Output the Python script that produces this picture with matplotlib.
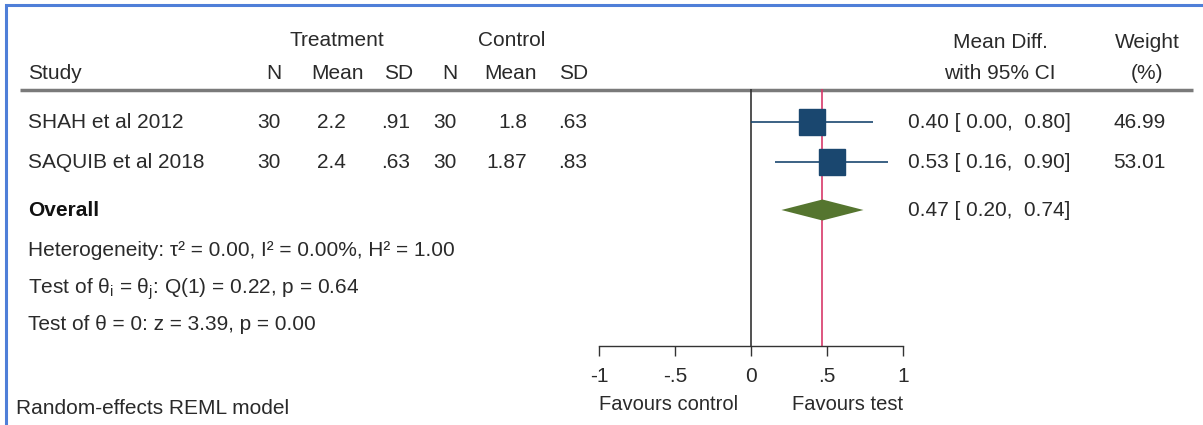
import matplotlib.pyplot as plt
from matplotlib.ticker import FixedLocator, FixedFormatter

plt.rcParams['font.family'] = ['Liberation Sans', 'DejaVu Sans']
plt.rcParams['mathtext.fontset'] = 'custom'
plt.rcParams['mathtext.rm'] = 'Liberation Sans'
plt.rcParams['mathtext.it'] = 'Liberation Sans:italic'

# study data
studies = ['SHAH et al 2012', 'SAQUIB et al 2018']
trt_n = ['30', '30']
trt_mean = ['2.2', '2.4']
trt_sd = ['.91', '.63']
ctl_n = ['30', '30']
ctl_mean = ['1.8', '1.87']
ctl_sd = ['.63', '.83']
md = [0.40, 0.53]
ci_lo = [0.00, 0.16]
ci_hi = [0.80, 0.90]
weights = [46.99, 53.01]

overall_md = 0.47
overall_lo = 0.20
overall_hi = 0.74

xticks = [-1, -0.5, 0, 0.5, 1]
xtick_labels = ['-1', '-.5', '0', '.5', '1']

het_text = 'Heterogeneity: τ² = 0.00, I² = 0.00%, H² = 1.00'
q_text = r'Test of θ$_{\mathrm{i}}$ = θ$_{\mathrm{j}}$: Q(1) = 0.22, p = 0.64'
z_text = 'Test of θ = 0: z = 3.39, p = 0.00'
model_text = 'Random-effects REML model'

W, H = 1203, 425
navy = '#1a476f'
green = '#55752f'
red = '#d8386a'
txt = '#2a2a2a'
fs = 15

fig = plt.figure(figsize=(W / 100, H / 100), dpi=100)

# layout axes in pixel coordinates for the table text
tab = fig.add_axes([0, 0, 1, 1])
tab.set_xlim(0, W)
tab.set_ylim(H, 0)
tab.axis('off')

# forest axes: x in effect units, y shares the pixel rows
x0, x1 = 599, 903
ytop, ybot = 89, 346
ax = fig.add_axes([x0 / W, (H - ybot) / H, (x1 - x0) / W, (ybot - ytop) / H])
ax.set_xlim(-1, 1)
ax.set_ylim(ybot, ytop)
ax.patch.set_alpha(0)
for s in ['top', 'right', 'left']:
    ax.spines[s].set_visible(False)
ax.spines['bottom'].set_color('#333333')
ax.spines['bottom'].set_linewidth(1.0)
ax.set_yticks([])
ax.xaxis.set_major_locator(FixedLocator(xticks))
ax.xaxis.set_major_formatter(FixedFormatter(xtick_labels))
ax.tick_params(axis='x', direction='out', length=7, width=1.0, color='#333333',
               labelsize=fs, labelcolor=txt, pad=8)

row_y = [122, 162]
overall_y = 210

ax.axvline(0, color='#333333', lw=1.2, zorder=1)
ax.axvline(overall_md, color=red, lw=1.2, zorder=1)

for i in range(len(studies)):
    ax.hlines(row_y[i], ci_lo[i], ci_hi[i], color=navy, lw=1.2, zorder=2)
    ax.plot(md[i], row_y[i], marker='s', color=navy, ms=2.63 * weights[i] ** 0.5,
            mec=navy, zorder=3)

dh = 10.5
ax.fill([overall_lo, overall_md, overall_hi, overall_md],
        [overall_y, overall_y - dh, overall_y, overall_y + dh],
        color=green, zorder=3, lw=0)

ax.text(-1, ybot + 59, 'Favours control', fontsize=14.5, color=txt, ha='left', va='center')
ax.text(1, ybot + 59, 'Favours test', fontsize=14.5, color=txt, ha='right', va='center')

# header
tab.text(337, 40, 'Treatment', fontsize=fs, color=txt, ha='center', va='center')
tab.text(512, 40, 'Control', fontsize=fs, color=txt, ha='center', va='center')
tab.text(1000, 42, 'Mean Diff.', fontsize=fs, color=txt, ha='center', va='center')
tab.text(1147, 42, 'Weight', fontsize=fs, color=txt, ha='center', va='center')
hy = 73
tab.text(28, hy, 'Study', fontsize=fs, color=txt, ha='left', va='center')
col_right = [281, 346, 410, 457, 527, 587]
col_names = ['N', 'Mean', 'SD', 'N', 'Mean', 'SD']
col_hdr_right = [281, 364, 413, 457, 537, 588]
for xr, name in zip(col_hdr_right, col_names):
    tab.text(xr, hy, name, fontsize=fs, color=txt, ha='right', va='center')
tab.text(1000, hy, 'with 95% CI', fontsize=fs, color=txt, ha='center', va='center')
tab.text(1147, hy, '(%)', fontsize=fs, color=txt, ha='center', va='center')
tab.plot([20, 1193], [90, 90], color='#7a7a7a', lw=2.5, solid_capstyle='butt')

# rows
for i in range(len(studies)):
    y = row_y[i]
    tab.text(28, y, studies[i], fontsize=fs, color=txt, ha='left', va='center')
    vals = [trt_n[i], trt_mean[i], trt_sd[i], ctl_n[i], ctl_mean[i], ctl_sd[i]]
    for xr, v in zip(col_right, vals):
        tab.text(xr, y, v, fontsize=fs, color=txt, ha='right', va='center')
    tab.text(908, y, f'{md[i]:.2f} [ {ci_lo[i]:.2f},  {ci_hi[i]:.2f}]',
             fontsize=fs, color=txt, ha='left', va='center')
    tab.text(1113, y, f'{weights[i]:.2f}', fontsize=fs, color=txt, ha='left', va='center')

tab.text(28, overall_y, 'Overall', fontsize=fs, color='#111111', ha='left', va='center',
         fontweight='bold')
tab.text(908, overall_y, f'{overall_md:.2f} [ {overall_lo:.2f},  {overall_hi:.2f}]',
         fontsize=fs, color=txt, ha='left', va='center')
tab.text(28, 250, het_text, fontsize=fs, color=txt, ha='left', va='center')
tab.text(28, 289, q_text, fontsize=fs, color=txt, ha='left', va='center')
tab.text(28, 325, z_text, fontsize=fs, color=txt, ha='left', va='center')
tab.text(16, 408, model_text, fontsize=fs, color=txt, ha='left', va='center')

# blue frame of the screenshot
tab.plot([6, 6, W], [H, 5, 5], color='#4f7fd8', lw=2.2, solid_joinstyle='miter')

fig.savefig('out.png', dpi=100)
